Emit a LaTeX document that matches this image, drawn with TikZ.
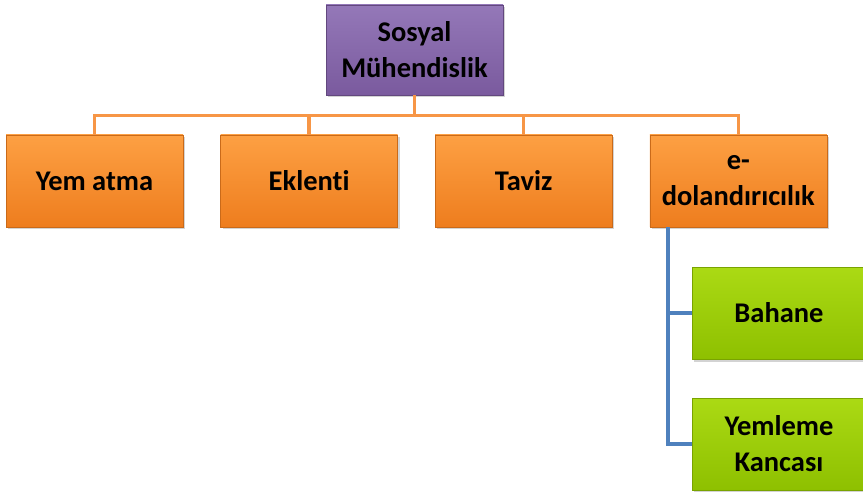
\documentclass[tikz,border=0pt]{standalone}
\usepackage{fontspec}
\setmainfont{Carlito}[Ligatures=NoCommon]
\usetikzlibrary{positioning,shadows}
\definecolor{topviolet}{HTML}{7A5A9E}
\definecolor{topvioletlight}{HTML}{9478B8}
\definecolor{boxorange}{HTML}{EE7D1E}
\definecolor{boxorangelight}{HTML}{FDA043}
\definecolor{leafgreen}{HTML}{8EC000}
\definecolor{leafgreenlight}{HTML}{ABDA14}
\definecolor{branchorange}{HTML}{F79646}
\definecolor{branchblue}{HTML}{4F81BD}

\begin{document}
\begin{tikzpicture}[
    x=1pt,y=1pt,
    node distance=37pt,
    boxbase/.style={rectangle,minimum width=177pt,align=center,inner sep=2pt,
      font=\fontsize{28.5}{36}\selectfont\bfseries,text=black,
      drop shadow={opacity=0.35,shadow xshift=2pt,shadow yshift=-2.5pt}},
    rootbox/.style={boxbase,minimum height=90pt,draw=topviolet!80!black,line width=0.6pt,
      top color=topvioletlight,bottom color=topviolet},
    topicbox/.style={boxbase,minimum height=92pt,draw=boxorange!85!black,line width=0.6pt,
      top color=boxorangelight,bottom color=boxorange},
    leafbox/.style={boxbase,minimum width=174pt,minimum height=92pt,draw=leafgreen!85!black,line width=0.6pt,
      top color=leafgreenlight,bottom color=leafgreen},
    orangeline/.style={draw=branchorange,line width=3.3pt},
    blueline/.style={draw=branchblue,line width=3.3pt}
  ]
    \useasboundingbox (0,0) rectangle (863,-492);

    \node[rootbox] (sosyal) at (414.5,-50) {Sosyal\\Mühendislik};

    \node[topicbox] (yem) at (94.5,-181) {Yem atma};
    \node[topicbox,right=of yem] (eklenti) {Eklenti};
    \node[topicbox,right=of eklenti] (taviz) {Taviz};
    \node[topicbox,right=of taviz] (edol) {e-\\dolandırıcılık};

    \node[leafbox] (bahane) at (779,-313) {Bahane};
    \node[leafbox] (yemleme) at (779,-444) {Yemleme\\Kancası};

    % orange branches from the root
    \coordinate (hub) at ([yshift=-20pt]sosyal.south);
    \draw[orangeline] (sosyal.south) -- (hub);
    \foreach \n in {yem,eklenti,taviz,edol}
      \draw[orangeline] (hub) -| (\n.north);

    % blue branches below e-dolandiricilik
    \coordinate (trunk) at ([xshift=18.5pt]edol.south west);
    \draw[blueline] (trunk) |- (bahane.west);
    \draw[blueline] (trunk) |- (yemleme.west);
  \end{tikzpicture}
\end{document}
